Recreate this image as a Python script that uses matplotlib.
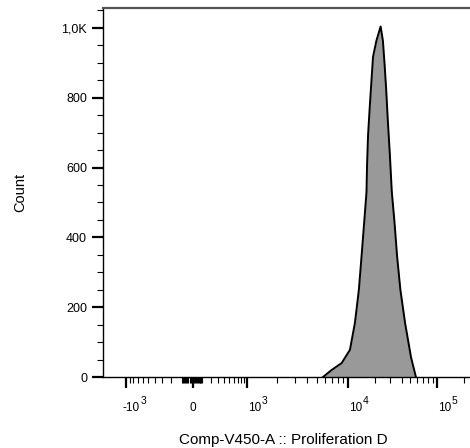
import numpy as np
import matplotlib.pyplot as plt
from matplotlib.ticker import FixedLocator, NullFormatter

plt.rcParams['font.family'] = ['Liberation Sans', 'DejaVu Sans']

# histogram outline (fluorescence value, count)
fluor = [5690, 6900, 8670, 10520, 11960, 13250, 14190, 15170, 16140, 16380,
         16820, 17550, 18340, 19100, 20840, 23270, 24680, 25770, 26920, 28050,
         29520, 31070, 33290, 35640, 38780, 43770, 51030, 57970]
count = [0, 20, 40, 78, 155, 250, 345, 440, 530, 609,
         695, 773, 848, 917, 963, 1004, 963, 896, 819, 733,
         638, 530, 444, 345, 250, 155, 57, 0]

x_major = [-1000, 0, 1000, 10000, 100000]
x_base = ['-10', '0', '10', '10', '10']
x_exp = ['3', '', '3', '4', '5']
y_major = [0, 200, 400, 600, 800, 1000]
y_labels = ['0', '200', '400', '600', '800', '1,0K']

# biexponential-like display scale (anchors: value -> screen position)
C = 300.0
anc_val = np.array([-3000, -1000, 0, 1000, 10000, 100000, 1000000])
anc_pos = np.array([86, 126, 193, 247, 348, 437, 527])
anc_u = np.arcsinh(anc_val / C)


def fwd(x):
    return np.interp(np.arcsinh(np.asarray(x, float) / C), anc_u, anc_pos)


def inv(p):
    return C * np.sinh(np.interp(np.asarray(p, float), anc_pos, anc_u))


fig = plt.figure(figsize=(4.7, 4.48), dpi=100)
ax = fig.add_axes([103 / 470, (448 - 377) / 448, (475 - 103) / 470, (377 - 8) / 448])
ax.set_xscale('function', functions=(fwd, inv))

ax.fill_between(fluor, count, color='#999999', lw=0)
ax.plot(fluor, count, color='black', lw=1.4, solid_joinstyle='round')

ax.set_xlim(float(inv(103)), float(inv(475)))
ax.set_ylim(0, 1057)

x_minor = (list(range(-900, 0, 100)) + list(range(-90, 0, 10)) + list(range(10, 100, 10))
           + list(range(100, 1000, 100)) + list(range(2000, 10000, 1000))
           + list(range(20000, 100000, 10000)) + [200000])
ax.xaxis.set_major_locator(FixedLocator(x_major))
ax.xaxis.set_minor_locator(FixedLocator(x_minor))
ax.xaxis.set_minor_formatter(NullFormatter())
ax.set_xticklabels([''] * len(x_major))

# tick labels drawn as base + raised exponent, left-aligned on the tick
xt = ax.get_xaxis_transform()
renderer = fig.canvas.get_renderer()
for v, b, e in zip(x_major, x_base, x_exp):
    dx = -2.2 if b.startswith('-') else (0.7 if e else -2.5)
    t = ax.annotate(b, xy=(v, 0), xycoords=xt, xytext=(dx, -24.2),
                    textcoords='offset points', ha='left', va='baseline', fontsize=8.5)
    if e:
        w = t.get_window_extent(renderer).width * 72 / fig.dpi
        ax.annotate(e, xy=(v, 0), xycoords=xt, xytext=(dx + w + 0.4, -19.6),
                    textcoords='offset points', ha='left', va='baseline', fontsize=7.5)

ax.yaxis.set_major_locator(FixedLocator(y_major))
ax.yaxis.set_minor_locator(FixedLocator(list(range(50, 1060, 50))))
ax.set_yticklabels(y_labels)

ax.tick_params(which='major', length=8, width=1.6, color='black', pad=4)
ax.tick_params(axis='y', which='major', labelsize=9, pad=3.5)
ax.tick_params(which='minor', length=4, width=0.8, color='black')

for s in ['left', 'bottom']:
    ax.spines[s].set_color('black')
    ax.spines[s].set_linewidth(1.0)
ax.spines['top'].set_color('#555555')
ax.spines['top'].set_linewidth(1.6)
ax.spines['right'].set_visible(False)

ax.set_xlabel('Comp-V450-A :: Proliferation D', fontsize=11)
ax.xaxis.set_label_coords(0.484, -0.152)
ax.set_ylabel('Count', fontsize=10.5)
ax.yaxis.set_label_coords(-0.204, 0.5)

fig.savefig('out.png', dpi=100)
